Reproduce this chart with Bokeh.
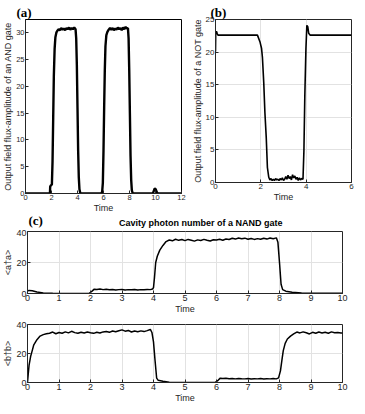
from bokeh.plotting import figure
from bokeh.layouts import column, row
from bokeh.models import Range1d, FixedTicker
from bokeh.core.properties import value
from bokeh.embed import file_html
from bokeh.resources import INLINE

# ---------------- data ----------------
# (a) AND gate output
t_and = [0, 1.88, 1.9, 1.95, 2.03, 2.08, 2.13, 2.18, 2.24, 2.3, 2.38, 2.45, 2.55, 2.65, 2.75,
         2.85, 2.95, 3.05, 3.15, 3.25, 3.35, 3.45, 3.55, 3.65, 3.75, 3.85, 3.9, 3.95, 4.0,
         4.05, 4.1, 4.15, 4.22, 5.85, 5.9, 5.95, 6.0, 6.05, 6.1, 6.15, 6.22, 6.3, 6.4, 6.5,
         6.6, 6.7, 6.8, 6.9, 7.0, 7.1, 7.2, 7.3, 7.4, 7.5, 7.6, 7.7, 7.8, 7.88, 7.93, 7.98,
         8.03, 8.08, 8.13, 8.18, 8.25, 9.8, 9.87, 9.93, 10.0, 10.06, 10.12, 10.2, 12]
v_and = [0, 0, 1.3, 1.5, 1.7, 6, 14, 22, 27, 29.2, 30.1, 30.4, 30.7, 30.5, 30.9,
         30.6, 30.8, 30.5, 30.9, 30.7, 31.0, 30.6, 30.9, 30.7, 31.0, 30.7, 29, 24, 16,
         8, 3, 0.8, 0, 0, 0.4, 2, 8, 16, 23, 27.5, 29.6, 30.2, 30.6, 30.9,
         30.6, 30.9, 30.5, 30.8, 30.6, 31.0, 30.7, 30.9, 30.5, 31.0, 30.7, 31.1, 30.8, 30.9, 29, 23,
         15, 7, 2.5, 0.6, 0, 0, 0.5, 0.9, 0.85, 0.5, 0.15, 0, 0]

# (b) NOT gate output
t_not = [0, 0.01, 0.04, 0.08, 0.11, 1.85, 1.96, 2.03, 2.07, 2.13, 2.18, 2.24, 2.29, 2.35,
         2.4, 2.45, 2.5, 2.55, 2.6, 2.65, 2.7, 2.75, 2.8, 2.85, 2.9, 2.95, 3.0, 3.05, 3.1,
         3.15, 3.2, 3.25, 3.3, 3.35, 3.4, 3.45, 3.5, 3.55, 3.6, 3.65, 3.7, 3.75, 3.8, 3.86,
         3.9, 3.94, 3.99, 4.03, 4.07, 4.11, 4.18, 6]
v_not = [20.1, 22.9, 23.2, 22.8, 22.6, 22.6, 21.6, 20.6, 19.2, 15.2, 10.7, 6.8, 2.3, 0.8,
         0.4, 0.6, 0.3, 0.5, 0.3, 0.6, 0.4, 0.5, 0.3, 0.6, 0.4, 0.7, 0.3, 0.5, 0.9,
         0.5, 1.1, 0.6, 0.9, 0.4, 1.2, 0.7, 1.0, 0.5, 0.8, 0.3, 0.7, 0.4, 0.6, 0.5,
         4.8, 13.2, 20.6, 24.1, 23.9, 22.9, 22.6, 22.6]

# (c) NAND gate cavity photon numbers
t_aa = [0, 0.05, 0.15, 0.3, 0.5, 0.8, 1.0, 1.95, 2.05, 2.12, 2.2, 2.3, 2.4, 2.5, 2.6, 2.7,
        2.8, 2.9, 3.0, 3.1, 3.2, 3.3, 3.4, 3.5, 3.6, 3.7, 3.8, 3.9, 3.97, 4.0, 4.03, 4.07,
        4.12, 4.2, 4.3, 4.4, 4.5, 4.6, 4.7, 4.8, 4.9, 5.0, 5.1, 5.2, 5.3, 5.4, 5.5, 5.6,
        5.7, 5.8, 5.9, 6.0, 6.1, 6.2, 6.3, 6.4, 6.5, 6.6, 6.7, 6.8, 6.9, 7.0, 7.1, 7.2,
        7.3, 7.4, 7.5, 7.6, 7.7, 7.8, 7.9, 7.95, 8.0, 8.05, 8.1, 8.2, 8.4, 8.7, 9.0, 10.0]
v_aa = [1.6, 2.0, 1.8, 1.0, 0.4, 0.1, 0.0, 0.0, 1.5, 2.8, 2.6, 2.9, 2.5, 2.7, 2.4, 2.6,
        2.3, 2.5, 2.6, 2.3, 2.5, 2.4, 2.6, 2.3, 2.5, 2.4, 2.6, 2.5, 2.9, 3.8, 10, 20,
        24, 28, 31, 33.5, 34.5, 34.0, 35.0, 34.3, 34.8, 34.1, 34.9, 34.4, 33.8, 34.6, 34.2, 34.9,
        34.3, 33.9, 34.7, 34.5, 35.0, 34.4, 35.2, 34.8, 35.6, 35.1, 35.8, 35.3, 35.7, 35.0, 35.5, 34.9,
        35.4, 35.0, 35.6, 35.1, 35.8, 35.3, 35.9, 33, 20, 6, 2.5, 1.5, 0.8, 0.4, 0.2, 0.1]

t_bb = [0, 0.02, 0.05, 0.1, 0.15, 0.2, 0.3, 0.4, 0.5, 0.6, 0.7, 0.8, 0.9, 1.0, 1.1, 1.2,
        1.3, 1.4, 1.5, 1.6, 1.7, 1.8, 1.9, 2.0, 2.1, 2.2, 2.3, 2.4, 2.5, 2.6, 2.7, 2.8,
        2.9, 3.0, 3.1, 3.2, 3.3, 3.4, 3.5, 3.6, 3.7, 3.8, 3.9, 3.95, 4.0, 4.05, 4.1, 4.15,
        4.3, 4.5, 5.0, 5.95, 6.05, 6.12, 6.2, 6.3, 6.4, 6.5, 6.6, 6.7, 6.8, 6.9, 7.0, 7.1,
        7.2, 7.3, 7.4, 7.5, 7.6, 7.7, 7.8, 7.9, 7.97, 8.03, 8.08, 8.12, 8.18, 8.25, 8.35, 8.45,
        8.55, 8.65, 8.75, 8.85, 8.95, 9.05, 9.15, 9.25, 9.35, 9.45, 9.55, 9.65, 9.75, 9.85, 9.95, 10.0]
v_bb = [0, 5, 12, 18, 22, 26, 29.5, 32, 33, 33.6, 34.0, 34.8, 33.6, 34.5, 34.0, 34.9,
        34.2, 35.3, 34.4, 34.0, 34.7, 34.2, 34.8, 34.3, 33.9, 34.6, 34.1, 34.9, 35.2, 34.6, 35.5, 35.0,
        35.7, 36.3, 35.4, 35.9, 34.8, 35.5, 35.0, 35.6, 35.1, 35.8, 36.6, 34.5, 28, 15, 3, 1.5,
        0.8, 0.2, 0.0, 0.0, 1.5, 3.0, 2.7, 2.9, 2.6, 2.7, 2.5, 2.8, 2.6, 2.5, 2.7, 2.4,
        2.6, 2.5, 2.7, 2.4, 2.6, 2.5, 2.7, 2.5, 3.2, 8, 16, 22, 27, 30, 32, 33.5,
        34.8, 34.2, 34.9, 34.3, 33.5, 34.6, 34.0, 34.8, 34.2, 34.6, 34.0, 34.9, 34.3, 34.5, 34.1, 34.2]

ticks_a_x = [0, 2, 4, 6, 8, 10, 12]
ticks_a_y = [0, 5, 10, 15, 20, 25, 30]
ticks_b_x = [0, 2, 4, 6]
ticks_b_y = [0, 5, 10, 15, 20, 25]
ticks_c_x = list(range(0, 11))
ticks_c_y = [0, 20, 40]

title_c = "Cavity photon number of a NAND gate"

FONT = "Liberation Sans"
SERIF = "Liberation Serif"
AX = "#262626"
GRID = "#e2e2e2"


def style(p, xt, yt, xlabel, ylabel, grid, tick_size="8px", label_size="9px"):
    p.xaxis.ticker = FixedTicker(ticks=xt)
    p.yaxis.ticker = FixedTicker(ticks=yt)
    for ax in (p.xaxis[0], p.yaxis[0]):
        ax.major_tick_in = 3
        ax.major_tick_out = 0
        ax.minor_tick_in = 0
        ax.minor_tick_out = 0
        ax.major_label_standoff = 1
        ax.axis_label_standoff = 0
        ax.major_label_text_font = FONT
        ax.major_label_text_font_size = tick_size
        ax.major_label_text_color = AX
        ax.axis_label_text_font = FONT
        ax.axis_label_text_font_size = label_size
        ax.axis_label_text_font_style = "normal"
        ax.axis_label_text_color = AX
        ax.axis_line_color = AX
        ax.major_tick_line_color = AX
    p.xaxis.axis_label = xlabel
    p.yaxis.axis_label = ylabel
    if grid:
        p.xgrid.ticker = FixedTicker(ticks=xt)
        p.ygrid.ticker = FixedTicker(ticks=yt)
        p.grid.grid_line_color = GRID
    else:
        p.grid.grid_line_color = None
    p.outline_line_color = AX
    p.outline_line_alpha = 1


def panel_title(p, offset):
    p.title.align = "left"
    p.title.offset = offset
    p.title.standoff = 0
    p.title.text_font = SERIF
    p.title.text_font_size = "13px"
    p.title.text_font_style = "bold"
    p.title.text_color = "#000000"


# (a)
pa = figure(frame_width=156, frame_height=174, output_backend="svg", toolbar_location=None,
            x_range=Range1d(0, 12), y_range=Range1d(0, 32.5), title="(a)",
            min_border_left=22, min_border_right=8, min_border_top=14, min_border_bottom=0)
pa.line(t_and, v_and, line_color="black", line_width=2.4)
style(pa, ticks_a_x, ticks_a_y, "Time", "Output field flux-amplitude of an AND gate", False,
      tick_size="7.5px", label_size="9px")
pa.outline_line_color = "black"
panel_title(pa, -9)

# (b)
pb = figure(frame_width=136, frame_height=163, output_backend="svg", toolbar_location=None,
            x_range=Range1d(0, 6), y_range=Range1d(0, 25), title="(b)",
            min_border_left=22, min_border_right=4, min_border_top=19, min_border_bottom=0)
pb.line(t_not, v_not, line_color="black", line_width=1.6)
style(pb, ticks_b_x, ticks_b_y, "Time", "Output field flux-amplitude of a NOT gate", True,
      tick_size="8px", label_size="9px")
panel_title(pb, -5)

# (c) header (panel letter + title)
hc = figure(width=349, height=16, output_backend="svg", toolbar_location=None,
            x_range=Range1d(0, 349), y_range=Range1d(0, 16),
            x_axis_type=None, y_axis_type=None, min_border=0)
hc.outline_line_color = None
hc.grid.grid_line_color = None
hc.text(x=[1], y=[9], text=["(c)"], text_font=value(SERIF), text_font_style="bold",
        text_font_size="13px", text_baseline="middle", text_align="left", text_color="black")
hc.text(x=[192], y=[7], text=[title_c], text_font=value(FONT), text_font_style="bold",
        text_font_size="9px", text_baseline="middle", text_align="center", text_color="black")

# (c) top
pc1 = figure(frame_width=315, frame_height=62, output_backend="svg", toolbar_location=None,
             x_range=Range1d(0, 10), y_range=Range1d(0, 40),
             min_border_left=27, min_border_right=7, min_border_top=2, min_border_bottom=0)
pc1.line(t_aa, v_aa, line_color="black", line_width=1.5)
style(pc1, ticks_c_x, ticks_c_y, "Time", "<a\u2020a>", True, tick_size="9px", label_size="9px")

# (c) bottom
pc2 = figure(frame_width=315, frame_height=58, output_backend="svg", toolbar_location=None,
             x_range=Range1d(0, 10), y_range=Range1d(0, 40),
             min_border_left=27, min_border_right=7, min_border_top=8, min_border_bottom=0)
pc2.line(t_bb, v_bb, line_color="black", line_width=1.5)
style(pc2, ticks_c_x, ticks_c_y, "Time", "<b\u2020b>", True, tick_size="9px", label_size="9px")

layout = column(row(pa, pb, spacing=0), hc, pc1, pc2, spacing=0)

open("out.html", "w").write(file_html(layout, INLINE))
